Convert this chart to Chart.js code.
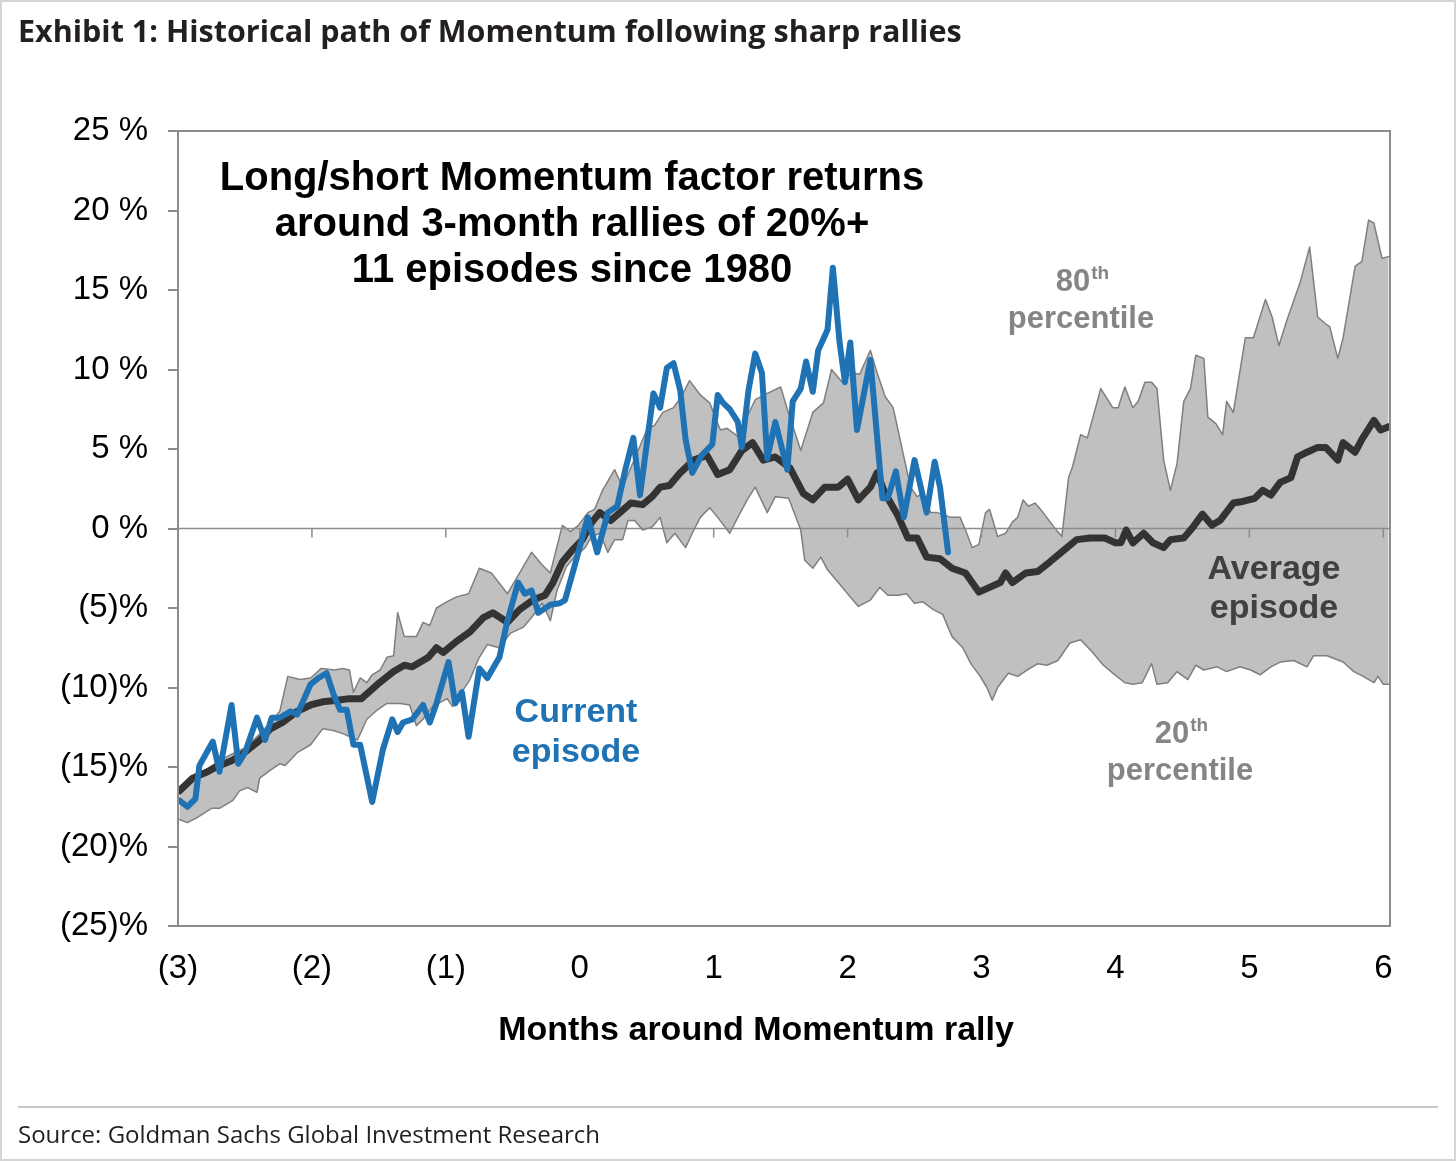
<!DOCTYPE html>
<html>
<head>
<meta charset="utf-8">
<script src="https://cdn.jsdelivr.net/npm/chart.js@4.4.1/dist/chart.umd.min.js"></script>
<style>
  html, body { margin: 0; padding: 0; background: #fff; }
  #page { position: relative; width: 1456px; height: 1161px; box-sizing: border-box; border: 2px solid #d6d6d6; overflow: hidden; }
  #head { position: absolute; left: 16px; top: 7px; font: bold 30.5px "Open Sans"; color: #231f20; white-space: nowrap; }
  #rule { position: absolute; left: 16px; top: 1104px; width: 1420px; height: 2px; background: #c8c8c8; }
  #src { position: absolute; left: 16px; top: 1115px; font: 24px "Open Sans"; color: #231f20; white-space: nowrap; }
  canvas { position: absolute; left: -2px; top: -2px; }
</style>
</head>
<body>
<div id="page">
  <canvas id="chart" width="1456" height="1161"></canvas>
  <div id="head">Exhibit 1: Historical path of Momentum following sharp rallies</div>
  <div id="rule"></div>
  <div id="src">Source: Goldman Sachs Global Investment Research</div>
</div>
<script>
// months around the rally, x tick labels
const xTickLabels = ['(3)', '(2)', '(1)', '0', '1', '2', '3', '4', '5', '6'];

// [month, return %]
const current = [[-2.99,-17.1],[-2.93,-17.5],[-2.87,-17.0],[-2.84,-14.9],[-2.74,-13.4],[-2.69,-15.3],[-2.60,-11.1],[-2.55,-14.8],[-2.50,-14.1],[-2.41,-11.9],[-2.35,-13.3],[-2.30,-11.9],[-2.24,-11.9],[-2.16,-11.5],[-2.11,-11.7],[-2.01,-9.8],[-1.95,-9.4],[-1.89,-9.1],[-1.84,-10.4],[-1.79,-11.4],[-1.74,-11.4],[-1.69,-13.6],[-1.64,-13.6],[-1.55,-17.2],[-1.47,-13.9],[-1.40,-12.0],[-1.36,-12.8],[-1.32,-12.2],[-1.25,-12.0],[-1.17,-11.1],[-1.12,-12.2],[-1.07,-11.0],[-0.98,-8.4],[-0.93,-11.0],[-0.88,-10.3],[-0.83,-13.1],[-0.75,-8.8],[-0.69,-9.4],[-0.60,-8.1],[-0.54,-5.8],[-0.46,-3.4],[-0.41,-4.1],[-0.36,-3.9],[-0.31,-5.3],[-0.22,-4.8],[-0.15,-4.7],[-0.11,-4.5],[-0.04,-2.4],[0.06,0.7],[0.13,-1.5],[0.21,1.0],[0.28,1.4],[0.34,3.7],[0.40,5.7],[0.45,2.1],[0.55,8.5],[0.60,7.6],[0.65,10.1],[0.70,10.4],[0.75,8.7],[0.79,5.6],[0.84,3.5],[0.91,4.6],[0.99,5.3],[1.03,8.4],[1.07,7.9],[1.12,7.5],[1.18,6.7],[1.21,5.1],[1.26,8.7],[1.31,11.0],[1.36,9.8],[1.40,4.4],[1.46,6.7],[1.55,3.7],[1.59,8.0],[1.65,8.8],[1.69,10.5],[1.74,8.6],[1.78,11.2],[1.85,12.5],[1.89,16.4],[1.94,11.7],[1.98,9.2],[2.02,11.7],[2.07,6.2],[2.17,10.6],[2.26,1.9],[2.30,1.9],[2.36,3.6],[2.42,0.7],[2.50,4.3],[2.59,1.0],[2.65,4.2],[2.69,2.6],[2.75,-1.5]];

const average = [[-2.99,-16.5],[-2.89,-15.7],[-2.78,-15.3],[-2.69,-14.9],[-2.60,-14.6],[-2.52,-14.2],[-2.40,-13.4],[-2.31,-12.6],[-2.22,-12.2],[-2.11,-11.5],[-2.01,-11.1],[-1.92,-10.9],[-1.81,-10.8],[-1.72,-10.7],[-1.63,-10.7],[-1.51,-9.8],[-1.39,-9.0],[-1.31,-8.6],[-1.25,-8.7],[-1.13,-8.1],[-1.07,-7.5],[-1.02,-7.8],[-0.92,-7.1],[-0.82,-6.5],[-0.72,-5.6],[-0.65,-5.3],[-0.54,-5.9],[-0.45,-5.1],[-0.35,-4.5],[-0.26,-4.2],[-0.20,-3.4],[-0.13,-2.1],[-0.06,-1.4],[0.02,-0.7],[0.09,0.4],[0.15,1.0],[0.23,0.5],[0.30,1.0],[0.38,1.6],[0.47,1.5],[0.54,2.0],[0.60,2.6],[0.67,2.7],[0.75,3.5],[0.85,4.3],[0.95,4.6],[1.03,3.4],[1.12,3.7],[1.21,4.9],[1.29,5.4],[1.37,4.3],[1.46,4.5],[1.57,3.8],[1.67,2.2],[1.74,1.8],[1.83,2.6],[1.93,2.6],[2.00,3.1],[2.08,1.8],[2.17,2.6],[2.22,3.5],[2.28,2.2],[2.37,0.9],[2.45,-0.6],[2.52,-0.6],[2.59,-1.8],[2.69,-1.9],[2.78,-2.5],[2.88,-2.8],[2.98,-4.0],[3.06,-3.7],[3.14,-3.4],[3.18,-2.8],[3.23,-3.4],[3.33,-2.8],[3.42,-2.7],[3.51,-2.1],[3.61,-1.4],[3.71,-0.7],[3.81,-0.6],[3.92,-0.6],[4.00,-0.9],[4.04,-0.9],[4.08,-0.1],[4.13,-0.9],[4.21,-0.3],[4.28,-0.9],[4.36,-1.2],[4.41,-0.7],[4.51,-0.6],[4.58,0.1],[4.65,0.9],[4.72,0.2],[4.78,0.5],[4.88,1.6],[4.95,1.7],[5.04,1.9],[5.10,2.4],[5.16,2.1],[5.23,2.9],[5.31,3.2],[5.36,4.5],[5.43,4.8],[5.51,5.1],[5.57,5.1],[5.66,4.3],[5.70,5.4],[5.79,4.8],[5.84,5.6],[5.93,6.8],[5.98,6.2],[6.04,6.4]];

const pct80 = [[-2.99,-16.6],[-2.89,-15.6],[-2.78,-15.1],[-2.69,-14.6],[-2.60,-14.2],[-2.50,-13.8],[-2.40,-13.0],[-2.31,-12.2],[-2.24,-11.5],[-2.18,-9.3],[-2.09,-9.5],[-2.01,-9.4],[-1.93,-8.8],[-1.83,-8.9],[-1.77,-8.8],[-1.72,-8.9],[-1.69,-10.3],[-1.64,-9.4],[-1.59,-9.7],[-1.55,-9.2],[-1.49,-8.9],[-1.44,-8.1],[-1.39,-8.0],[-1.36,-5.3],[-1.31,-6.8],[-1.22,-6.8],[-1.17,-5.9],[-1.12,-6.1],[-1.07,-5.0],[-0.99,-4.6],[-0.92,-4.3],[-0.83,-4.1],[-0.75,-2.5],[-0.66,-2.8],[-0.54,-4.1],[-0.45,-2.8],[-0.36,-1.5],[-0.28,-2.3],[-0.22,-2.8],[-0.13,0.2],[-0.07,-0.2],[-0.01,0.2],[0.06,1.0],[0.11,1.2],[0.17,2.4],[0.26,3.7],[0.32,2.6],[0.40,4.2],[0.50,6.2],[0.56,6.5],[0.62,7.3],[0.70,7.6],[0.76,8.3],[0.82,9.3],[0.90,8.4],[0.97,7.9],[1.05,6.2],[1.10,6.3],[1.18,5.8],[1.31,8.1],[1.40,8.5],[1.50,8.9],[1.55,7.5],[1.65,4.9],[1.74,7.3],[1.82,7.9],[1.88,10.0],[1.96,9.2],[2.03,9.8],[2.09,9.7],[2.17,11.2],[2.22,9.8],[2.28,8.3],[2.34,7.6],[2.42,4.5],[2.47,2.6],[2.52,2.0],[2.56,2.2],[2.62,1.0],[2.67,1.0],[2.77,0.7],[2.84,0.7],[2.88,-0.1],[2.93,-1.2],[2.98,-1.0],[3.03,1.0],[3.06,1.2],[3.12,-0.5],[3.18,-0.3],[3.23,0.4],[3.27,0.7],[3.31,1.8],[3.35,1.4],[3.40,1.6],[3.46,1.0],[3.54,0.1],[3.60,-0.5],[3.65,3.2],[3.68,3.9],[3.74,5.9],[3.79,5.7],[3.89,8.8],[3.98,7.6],[4.02,7.6],[4.07,8.9],[4.13,7.6],[4.17,8.0],[4.22,9.2],[4.27,9.2],[4.31,8.8],[4.36,4.3],[4.41,2.4],[4.46,4.1],[4.51,8.0],[4.56,8.8],[4.60,10.9],[4.66,10.7],[4.69,7.0],[4.75,6.6],[4.80,5.9],[4.83,8.0],[4.88,7.3],[4.97,12.0],[5.03,12.0],[5.12,14.4],[5.17,13.3],[5.22,11.5],[5.28,13.1],[5.38,15.5],[5.45,17.7],[5.51,13.3],[5.58,12.8],[5.60,12.7],[5.66,10.7],[5.70,12.0],[5.79,16.5],[5.84,16.8],[5.89,19.4],[5.93,19.2],[5.99,17.0],[6.04,17.1]];

const pct20 = [[-2.99,-18.3],[-2.93,-18.5],[-2.86,-18.2],[-2.75,-17.6],[-2.69,-17.6],[-2.59,-17.1],[-2.54,-16.5],[-2.48,-16.3],[-2.41,-16.6],[-2.39,-15.7],[-2.31,-15.2],[-2.24,-14.8],[-2.20,-14.9],[-2.11,-14.1],[-2.01,-13.6],[-1.92,-12.6],[-1.84,-12.7],[-1.77,-12.9],[-1.66,-13.3],[-1.59,-12.0],[-1.51,-11.4],[-1.44,-11.0],[-1.34,-11.0],[-1.27,-11.1],[-1.22,-12.4],[-1.17,-12.0],[-1.10,-11.2],[-0.99,-10.7],[-0.95,-11.2],[-0.89,-10.4],[-0.82,-9.5],[-0.75,-8.1],[-0.69,-7.3],[-0.60,-7.5],[-0.52,-6.6],[-0.42,-6.2],[-0.36,-5.6],[-0.28,-4.7],[-0.22,-5.8],[-0.17,-3.9],[-0.10,-2.4],[-0.04,-1.8],[0.04,-1.2],[0.09,-0.5],[0.15,-0.3],[0.21,-1.5],[0.26,-0.7],[0.32,-0.7],[0.36,0.5],[0.41,0.5],[0.47,-0.1],[0.54,0.1],[0.60,0.7],[0.65,-0.9],[0.71,-0.3],[0.79,-1.2],[0.84,-0.3],[0.90,0.7],[0.97,1.3],[1.03,0.7],[1.12,-0.3],[1.18,0.7],[1.25,1.8],[1.31,2.6],[1.40,1.0],[1.46,2.0],[1.56,1.9],[1.65,-0.1],[1.68,-2.0],[1.74,-2.5],[1.80,-1.8],[1.85,-2.6],[1.93,-3.4],[2.00,-4.1],[2.08,-4.9],[2.17,-4.5],[2.24,-3.7],[2.30,-4.2],[2.38,-4.2],[2.44,-4.1],[2.50,-4.7],[2.56,-4.6],[2.64,-5.1],[2.71,-5.4],[2.78,-6.8],[2.86,-7.5],[2.92,-8.5],[2.99,-9.3],[3.04,-10.0],[3.08,-10.8],[3.12,-10.0],[3.20,-9.1],[3.27,-9.3],[3.34,-8.9],[3.42,-8.5],[3.49,-8.6],[3.57,-8.3],[3.66,-7.2],[3.74,-7.0],[3.83,-7.8],[3.91,-8.6],[3.98,-9.1],[4.07,-9.7],[4.13,-9.8],[4.20,-9.7],[4.27,-8.5],[4.31,-9.8],[4.39,-9.7],[4.46,-9.0],[4.54,-9.5],[4.60,-8.6],[4.66,-8.9],[4.76,-8.7],[4.83,-9.0],[4.93,-8.7],[5.01,-8.9],[5.08,-9.2],[5.16,-8.7],[5.23,-8.4],[5.33,-8.3],[5.43,-8.7],[5.48,-8.0],[5.58,-8.0],[5.70,-8.4],[5.78,-9.0],[5.85,-9.3],[5.93,-9.7],[5.96,-9.3],[6.00,-9.8],[6.04,-9.8]];

const toPts = arr => arr.map(([x, y]) => ({ x, y }));
const GREY = '#8c8c8c';
const ARIAL = '"Liberation Sans", Arial, sans-serif';

function label(ctx, str, x, y, size, color) {
  ctx.font = `bold ${size}px ${ARIAL}`;
  ctx.fillStyle = color;
  ctx.textAlign = 'center';
  ctx.textBaseline = 'middle';
  ctx.fillText(str, x, y);
}

function ordinal(ctx, num, x, y, color) {
  ctx.font = `bold 31px ${ARIAL}`;
  const w1 = ctx.measureText(num).width;
  ctx.font = `bold 19px ${ARIAL}`;
  const w2 = ctx.measureText('th').width;
  const start = x - (w1 + w2) / 2;
  ctx.fillStyle = color;
  ctx.textAlign = 'left';
  ctx.textBaseline = 'middle';
  ctx.font = `bold 31px ${ARIAL}`;
  ctx.fillText(num, start, y);
  ctx.font = `bold 19px ${ARIAL}`;
  ctx.fillText('th', start + w1 + 1, y - 8);
}

const notes = {
  id: 'notes',
  afterDatasetDraw(chart, args) {
    if (args.index !== 0) return;   // zero line over the band, under the lines
    const { ctx, chartArea: a, scales: { x, y } } = chart;
    const y0 = y.getPixelForValue(0);
    ctx.save();
    ctx.strokeStyle = GREY;
    ctx.lineWidth = 1.5;
    ctx.beginPath();
    ctx.moveTo(a.left, y0);
    ctx.lineTo(a.right, y0);
    xTickLabels.forEach((_, i) => {
      const px = x.getPixelForValue(i - 3);
      ctx.moveTo(px, y0);
      ctx.lineTo(px, y0 + 9);
    });
    ctx.stroke();
    ctx.restore();
  },
  afterDraw(chart) {
    const { ctx, chartArea: a } = chart;
    ctx.save();
    ctx.strokeStyle = GREY;
    ctx.lineWidth = 2;
    ctx.strokeRect(a.left, a.top, a.right - a.left, a.bottom - a.top);

    label(ctx, 'Long/short Momentum factor returns', 572, 179, 40, '#000');
    label(ctx, 'around 3-month rallies of 20%+', 572, 225, 40, '#000');
    label(ctx, '11 episodes since 1980', 572, 271, 40, '#000');

    ordinal(ctx, '80', 1082, 282, '#858585');
    label(ctx, 'percentile', 1081, 319, 31, '#858585');
    ordinal(ctx, '20', 1181, 734, '#858585');
    label(ctx, 'percentile', 1180, 771, 31, '#858585');

    label(ctx, 'Average', 1274, 570, 34, '#404040');
    label(ctx, 'episode', 1274, 609, 34, '#404040');
    label(ctx, 'Current', 576, 713, 34, '#1f73b5');
    label(ctx, 'episode', 576, 753, 34, '#1f73b5');

    label(ctx, 'Months around Momentum rally', 756, 1031, 34, '#000');
    ctx.restore();
  }
};

new Chart(document.getElementById('chart'), {
  type: 'line',
  data: {
    datasets: [
      {
        label: '80th percentile',
        data: toPts(pct80),
        borderColor: '#7f7f7f',
        borderWidth: 1.5,
        backgroundColor: '#c0c0c0',
        fill: 1,
        order: 4
      },
      {
        label: '20th percentile',
        data: toPts(pct20),
        borderColor: '#7f7f7f',
        borderWidth: 1.5,
        fill: false,
        order: 3
      },
      {
        label: 'Average episode',
        data: toPts(average),
        borderColor: '#333333',
        borderWidth: 7,
        fill: false,
        order: 2
      },
      {
        label: 'Current episode',
        data: toPts(current),
        borderColor: '#1f73b5',
        borderWidth: 6,
        fill: false,
        order: 1
      }
    ]
  },
  options: {
    responsive: false,
    animation: false,
    devicePixelRatio: 1,
    layout: { padding: { left: 0, top: 131, right: 66, bottom: 0 } },
    elements: {
      point: { radius: 0, hoverRadius: 0 },
      line: { tension: 0, borderJoinStyle: 'round', borderCapStyle: 'round' }
    },
    plugins: {
      legend: { display: false },
      tooltip: { enabled: false },
      filler: { propagate: false }
    },
    scales: {
      x: {
        type: 'linear',
        min: -3,
        max: 6.05,
        afterFit: s => { s.height = 235; },
        grid: { display: false },
        border: { display: false },
        ticks: {
          stepSize: 1,
          includeBounds: false,
          padding: 15,
          maxRotation: 0,
          color: '#000',
          font: { family: ARIAL, size: 33 },
          callback: v => Number.isInteger(v) ? xTickLabels[v + 3] : ''
        }
      },
      y: {
        min: -25,
        max: 25,
        afterFit: s => { s.width = 178; },
        grid: { drawOnChartArea: false, drawTicks: true, tickLength: 10, tickColor: GREY, lineWidth: 2 },
        border: { display: false },
        ticks: {
          stepSize: 5,
          padding: 20,
          color: '#000',
          font: { family: ARIAL, size: 33 },
          callback: v => v > 0 ? v + ' %' : v === 0 ? '0 %' : '(' + (-v) + ')%'
        }
      }
    }
  },
  plugins: [notes]
});
</script>
</body>
</html>
